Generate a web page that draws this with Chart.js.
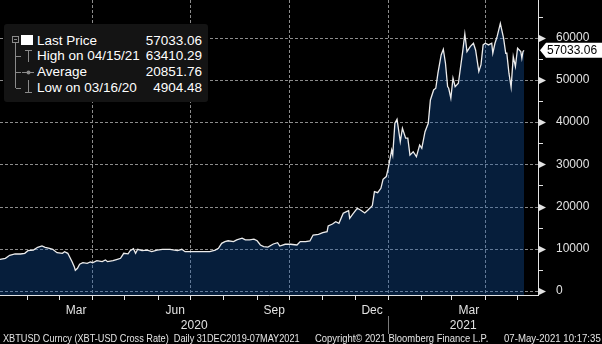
<!DOCTYPE html>
<html>
<head>
<meta charset="utf-8">
<script src="https://cdn.jsdelivr.net/npm/chart.js@4.4.0/dist/chart.umd.min.js"></script>
<style>
  body { margin: 0; background: #000; }
  #wrap { position: relative; width: 602px; height: 344px; overflow: hidden; }
  #legend {
    position: absolute; left: 4px; top: 24px; width: 204px; height: 78px;
    background: #141414; border-radius: 3px;
    font: 13.5px "Liberation Sans", Arial, sans-serif; color: #fff;
  }
  #legend svg { position: absolute; left: 0; top: 0; }
  #legend .row { position: absolute; left: 33px; width: 165px; height: 16px; line-height: 16px; white-space: nowrap; }
  #legend .val { position: absolute; right: 0; top: 0; }
  .foot {
    position: absolute; top: 332px; white-space: nowrap; color: #e4e4e4;
    font: 11px "Liberation Sans", Arial, sans-serif; transform-origin: 0 0;
  }
</style>
</head>
<body>
<div id="wrap">
  <canvas id="xbt-chart"></canvas>
  <div id="legend">
    <svg width="40" height="78">
      <g stroke="#8a8a8a" stroke-width="1" fill="none" shape-rendering="crispEdges">
        <rect x="8.5" y="12.5" width="6" height="6"/>
        <line x1="10" y1="15.5" x2="13" y2="15.5"/>
        <line x1="11.5" y1="19" x2="11.5" y2="64"/>
        <line x1="11.5" y1="32.5" x2="17" y2="32.5"/>
        <line x1="11.5" y1="48.5" x2="17" y2="48.5"/>
        <line x1="11.5" y1="64.5" x2="17" y2="64.5"/>
        <line x1="21" y1="26.5" x2="28" y2="26.5"/>
        <line x1="24.5" y1="26" x2="24.5" y2="38"/>
        <line x1="18" y1="48.5" x2="30" y2="48.5"/>
        <line x1="24.5" y1="56" x2="24.5" y2="68"/>
        <line x1="21" y1="68.5" x2="28" y2="68.5"/>
      </g>
      <circle cx="24.5" cy="48.5" r="2" fill="#8a8a8a"/>
      <rect x="17" y="11" width="12" height="10" fill="#fff"/>
    </svg>
    <div class="row" style="top:9px">Last Price<span class="val" id="v-last"></span></div>
    <div class="row" style="top:24px"><span id="l-high"></span><span class="val" id="v-high"></span></div>
    <div class="row" style="top:40px">Average<span class="val" id="v-avg"></span></div>
    <div class="row" style="top:56px"><span id="l-low"></span><span class="val" id="v-low"></span></div>
  </div>
  <span class="foot" data-w="297" style="left:3px">XBTUSD Curncy (XBT-USD Cross Rate)&nbsp; Daily 31DEC2019-07MAY2021</span>
  <span class="foot" data-w="173" style="left:315px">Copyright© 2021 Bloomberg Finance L.P.</span>
  <span class="foot" data-w="97" style="left:504px">07-May-2021 10:17:35</span>
</div>
<script>
// days counted from 31 Dec 2019
const startDate = Date.UTC(2019, 11, 31);
const dayOffsets = [
  0, 6, 11, 15, 20, 25, 29, 32, 37, 41, 45, 48, 52, 55, 59, 64, 66, 69, 73, 75,
  76, 78, 80, 83, 87, 90, 92, 96, 101, 104, 106, 111, 115, 118, 121, 125, 127, 130, 132, 134,
  138, 143, 147, 152, 157, 164, 171, 175, 178, 183, 189, 195, 201, 206, 209, 212, 215, 218, 223, 226,
  231, 234, 238, 242, 245, 248, 251, 255, 260, 264, 266, 271, 276, 282, 285, 290, 294, 297, 302, 306,
  310, 311, 315, 318, 321, 325, 328, 330, 331, 334, 338, 341, 345, 348, 352, 354, 357, 360, 362, 365,
  367, 370, 371, 373, 375, 378, 380, 383, 385, 387, 390, 393, 396, 398, 401, 404, 406, 409, 411, 413,
  416, 418, 420, 422, 423, 425, 427, 429, 432, 436, 438, 440, 443, 446, 448, 451, 453, 455, 457, 460,
  463, 464, 466, 468, 471, 472, 474, 476, 477, 479, 481, 483, 485, 487, 490, 491, 492, 493
];
const prices = [
  7200, 7500, 7750, 8450, 8770, 8770, 8930, 9550, 9700, 10350, 10660, 10350, 10100, 9880, 9080, 8930, 9320, 8930, 6950, 5760,
  4904.48, 5380, 6330, 6700, 6560, 6870, 6700, 7180, 6950, 7350, 6950, 7180, 7500, 7750, 8930, 8800, 9550, 10000, 8930, 9880,
  9550, 9700, 9320, 9700, 9880, 9880, 9550, 9880, 9320, 9320, 9320, 9320, 9320, 9700, 10100, 11300, 11700, 11900, 11700, 12100,
  12500, 12100, 12100, 12300, 11900, 10900, 10500, 10400, 11140, 11450, 10660, 11070, 11070, 10900, 11700, 11700, 11850, 13270, 13430, 13820,
  14060, 15400, 15880, 16420, 16040, 18410, 18800, 19040, 17230, 18250, 19600, 19200, 18500, 19200, 20200, 23530, 23300, 24330, 26470, 27100,
  29300, 33400, 32200, 39750, 40700, 35400, 38550, 36200, 36200, 32200, 33000, 31830, 34600, 33820, 37750, 39750, 45270, 47640, 48040, 51600,
  55930, 57280, 53960, 48420, 48040, 45670, 50410, 48420, 49220, 56710, 60900, 56710, 57900, 58700, 57120, 52000, 53560, 58300, 58700, 58300,
  58700, 56330, 58700, 60270, 63410.29, 62250, 59900, 56330, 56330, 51600, 48280, 55530, 53160, 57520, 56710, 55140, 56710, 57033.06
];

const lastPrice = 57033.06;
const highPrice = 63410.29, highDate = '04/15/21';
const avgPrice = 20851.76;
const lowPrice = 4904.48, lowDate = '03/16/20';

const monthNames = ['Jan', 'Feb', 'Mar', 'Apr', 'May', 'Jun', 'Jul', 'Aug', 'Sep', 'Oct', 'Nov', 'Dec'];
const labelledMonths = [2, 5, 8, 11];
const gridMonths = [0, 3, 6, 9];
const yearLabels = ['2020', '2021'];
const yMajorTicks = [0, 10000, 20000, 30000, 40000, 50000, 60000];
const yMinorTicks = [5000, 15000, 25000, 35000, 45000, 55000, 65000];

const xMin = 6, xMax = 506;
const yMin = -950, yMax = 68950;

document.getElementById('v-last').textContent = lastPrice.toFixed(2);
document.getElementById('l-high').textContent = 'High on ' + highDate;
document.getElementById('v-high').textContent = highPrice.toFixed(2);
document.getElementById('v-avg').textContent = avgPrice.toFixed(2);
document.getElementById('l-low').textContent = 'Low on ' + lowDate;
document.getElementById('v-low').textContent = lowPrice.toFixed(2);

// squeeze the footer strings into their slots
document.querySelectorAll('.foot').forEach(el => {
  el.style.transform = 'scaleX(' + (el.dataset.w / el.offsetWidth) + ')';
});

function dayOf(t) { return (t - startDate) / 864e5; }
function monthOf(day) { return new Date(startDate + day * 864e5).getUTCMonth(); }

// first day of every month inside the visible range
const monthStarts = [];
for (let m = 0; m < 18; m++) {
  const d = dayOf(Date.UTC(2020, m, 1));
  if (d >= xMin && d <= xMax) monthStarts.push(d);
}

const gridColor = '#8c8c8c';
const axisColor = '#e2e2e2';
const axisFont = { family: '"Liberation Sans", Arial, sans-serif', size: 12 };

// price grid, under the area fill
const priceGrid = {
  id: 'priceGrid',
  beforeDatasetsDraw(chart) {
    const { ctx, chartArea, scales: { y } } = chart;
    ctx.save();
    ctx.strokeStyle = gridColor;
    ctx.lineWidth = 1;
    ctx.setLineDash([3, 2]);
    yMajorTicks.forEach(v => {
      const py = Math.round(y.getPixelForValue(v)) + 0.5;
      ctx.beginPath();
      ctx.moveTo(chartArea.left, py);
      ctx.lineTo(chartArea.right, py);
      ctx.stroke();
    });
    ctx.restore();
  }
};

const extras = {
  id: 'extras',
  afterDraw(chart) {
    const { ctx, scales: { x, y } } = chart;
    const ax = chart.chartArea.right;
    ctx.save();

    // arrow ticks and minor ticks on the price axis
    ctx.fillStyle = axisColor;
    ctx.strokeStyle = axisColor;
    ctx.lineWidth = 1;
    yMajorTicks.forEach(v => {
      const py = Math.round(y.getPixelForValue(v)) + 0.5;
      ctx.beginPath();
      ctx.moveTo(ax, py - 4);
      ctx.lineTo(ax + 8, py);
      ctx.lineTo(ax, py + 4);
      ctx.closePath();
      ctx.fill();
    });
    yMinorTicks.forEach(v => {
      const py = Math.round(y.getPixelForValue(v)) + 0.5;
      ctx.beginPath();
      ctx.moveTo(ax, py);
      ctx.lineTo(ax + 5, py);
      ctx.stroke();
    });

    // last price tag
    const ly = y.getPixelForValue(lastPrice);
    ctx.fillStyle = '#fff';
    ctx.beginPath();
    ctx.moveTo(ax + 2, ly);
    ctx.lineTo(ax + 8, ly - 7.5);
    ctx.lineTo(602, ly - 7.5);
    ctx.lineTo(602, ly + 7.5);
    ctx.lineTo(ax + 8, ly + 7.5);
    ctx.closePath();
    ctx.fill();
    ctx.fillStyle = '#000';
    ctx.font = '12px "Liberation Sans", Arial, sans-serif';
    ctx.textBaseline = 'middle';
    ctx.textAlign = 'left';
    ctx.fillText(lastPrice.toFixed(2), ax + 9, ly + 0.5);

    // year row under the month labels
    const y2021 = dayOf(Date.UTC(2021, 0, 1));
    const spans = [[xMin, y2021], [y2021, xMax]];
    ctx.fillStyle = axisColor;
    ctx.textAlign = 'center';
    spans.forEach((s, i) => {
      const cx = (x.getPixelForValue(s[0]) + x.getPixelForValue(s[1])) / 2;
      ctx.fillText(yearLabels[i], cx, 326);
    });
    const sx = Math.round(x.getPixelForValue(y2021)) + 0.5;
    ctx.strokeStyle = '#7a7a7a';
    ctx.beginPath();
    ctx.moveTo(sx, 316);
    ctx.lineTo(sx, 334);
    ctx.stroke();

    ctx.restore();
  }
};

new Chart(document.getElementById('xbt-chart'), {
  type: 'line',
  data: {
    datasets: [{
      data: dayOffsets.map((d, i) => ({ x: d, y: prices[i] })),
      borderColor: '#ececec',
      borderWidth: 1.3,
      // translucent so the dashed grid shows through the area
      backgroundColor: 'rgba(17, 88, 172, 0.34)',
      fill: 'start',
      pointRadius: 0,
      tension: 0
    }]
  },
  options: {
    responsive: true,
    maintainAspectRatio: false,
    animation: false,
    layout: { padding: 0 },
    plugins: { legend: { display: false }, tooltip: { enabled: false } },
    scales: {
      x: {
        type: 'linear',
        min: xMin,
        max: xMax,
        afterBuildTicks: scale => { scale.ticks = monthStarts.map(v => ({ value: v })); },
        afterFit: scale => {
          scale.height = 49;
          scale.paddingLeft = 0;
          scale.paddingRight = 0;
        },
        ticks: {
          autoSkip: false,
          maxRotation: 0,
          minRotation: 0,
          padding: 3,
          labelOffset: 17,
          color: axisColor,
          font: axisFont,
          callback: v => labelledMonths.includes(monthOf(v)) ? monthNames[monthOf(v)] : ''
        },
        grid: {
          color: c => c.tick && gridMonths.includes(monthOf(c.tick.value)) ? gridColor : 'rgba(0,0,0,0)',
          tickColor: axisColor,
          tickLength: 5,
          lineWidth: 1
        },
        border: { color: axisColor, width: 1, dash: [3, 2], z: 1 }
      },
      y: {
        position: 'right',
        min: yMin,
        max: yMax,
        afterBuildTicks: scale => { scale.ticks = yMajorTicks.map(v => ({ value: v })); },
        afterFit: scale => {
          scale.width = 64;
          scale.paddingTop = 0;
          scale.paddingBottom = 0;
        },
        ticks: {
          autoSkip: false,
          padding: 10,
          color: axisColor,
          font: axisFont,
          callback: v => String(v)
        },
        grid: { display: false },
        border: { color: axisColor, width: 1, z: 1 }
      }
    }
  },
  plugins: [priceGrid, extras]
});
</script>
</body>
</html>
